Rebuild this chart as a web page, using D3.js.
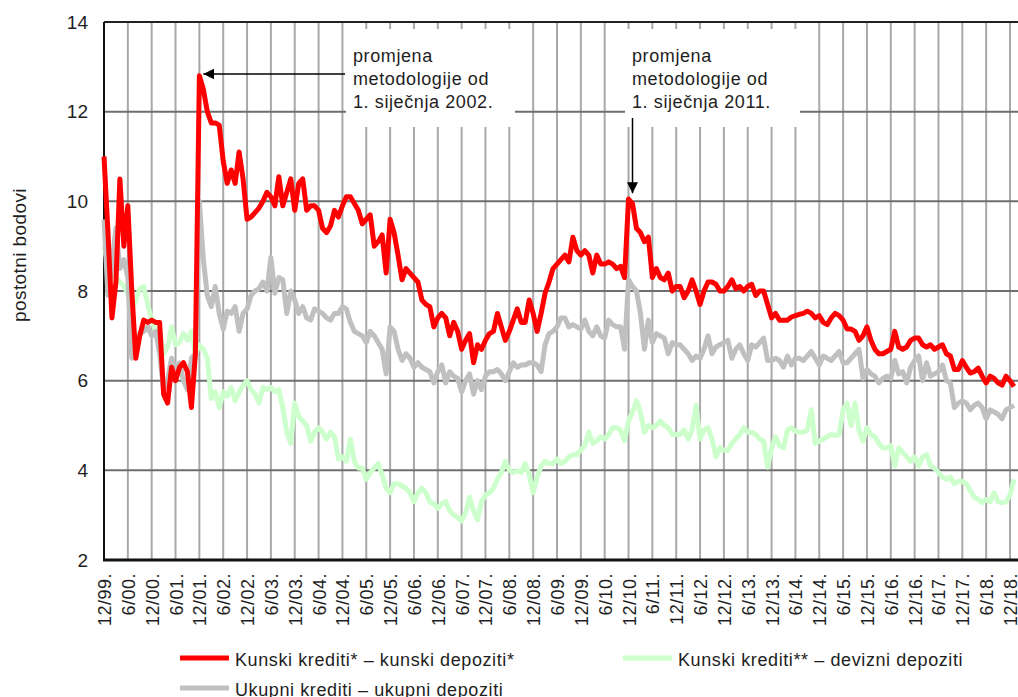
<!DOCTYPE html>
<html>
<head>
<meta charset="utf-8">
<script src="https://cdn.jsdelivr.net/npm/d3@7"></script>
<style>
  body { margin: 0; background: #fff; }
  svg text { font-family: Arial, "Liberation Sans", sans-serif; fill: #1e1e1e; }
</style>
</head>
<body>
<svg id="chart" width="1018" height="697"></svg>
<script>
// monthly values, 12/1999 - 1/2019 (percentage points)
var kunski = [
  11.0, 9.3, 7.4, 8.2, 10.5, 9.0, 9.9, 8.0, 6.5, 7.0, 7.35, 7.3,
  7.35, 7.3, 7.3, 5.7, 5.5, 6.3, 6.0, 6.3, 6.4, 6.2, 5.4, 6.6,
  12.8, 12.5, 12.0, 11.75, 11.75, 11.7, 10.9, 10.4, 10.7, 10.4, 11.1, 10.5,
  9.6, 9.65, 9.75, 9.85, 10.0, 10.2, 10.1, 9.9, 10.55, 9.9, 10.2, 10.5,
  9.8, 10.4, 10.5, 9.8, 9.9, 9.9, 9.8, 9.4, 9.3, 9.45, 9.8, 9.65,
  9.9, 10.1, 10.1, 9.95, 9.8, 9.5, 9.6, 9.7, 9.0, 9.1, 9.25, 8.4,
  9.6, 9.3, 8.8, 8.25, 8.5, 8.4, 8.3, 8.2, 7.8, 7.7, 7.65, 7.2,
  7.4, 7.5, 7.4, 7.0, 7.3, 7.1, 6.7, 6.9, 7.05, 6.4, 6.8, 6.7,
  6.9, 7.05, 7.1, 7.5, 7.2, 6.9, 7.1, 7.35, 7.6, 7.3, 7.3, 7.8,
  7.5, 7.1, 7.5, 7.95, 8.2, 8.5, 8.6, 8.7, 8.8, 8.65, 9.2, 8.9,
  8.8, 8.9, 8.8, 8.4, 8.8, 8.6, 8.6, 8.65, 8.6, 8.5, 8.55, 8.3,
  10.05, 9.95, 9.4, 9.3, 9.1, 9.2, 8.3, 8.5, 8.3, 8.25, 8.4, 8.0,
  8.1, 8.1, 7.85, 8.0, 8.25, 8.0, 7.7, 8.0, 8.2, 8.2, 8.15, 8.0,
  8.0, 8.1, 8.25, 8.05, 8.1, 8.0, 8.1, 8.15, 7.9, 8.0, 8.0, 7.7,
  7.4, 7.5, 7.35, 7.35, 7.35, 7.42, 7.45, 7.48, 7.5, 7.55, 7.5, 7.4,
  7.45, 7.3, 7.25, 7.4, 7.5, 7.45, 7.35, 7.15, 7.15, 7.1, 6.9, 7.0,
  7.2, 6.9, 6.7, 6.6, 6.6, 6.65, 6.7, 7.1, 6.75, 6.7, 6.75, 6.9,
  6.95, 6.95, 6.8, 6.75, 6.8, 6.7, 6.75, 6.8, 6.6, 6.55, 6.25, 6.25,
  6.45, 6.3, 6.17, 6.2, 6.28, 6.1, 5.95, 6.1, 6.05, 5.95, 5.9, 6.1, 6.0, 5.87
];

var ukupni = [
  9.6, 7.9, 8.6, 9.4, 8.5, 8.7, 8.3, 6.5, 6.8, 7.05, 7.1, 7.2,
  7.0, 7.1, 6.6, 5.8, 6.0, 6.5, 6.2, 6.4, 6.0, 5.8, 6.5, 6.6,
  10.0, 8.7, 7.9, 7.65, 8.1, 7.5, 7.15, 7.55, 7.5, 7.65, 7.1, 7.5,
  7.6, 7.9, 8.0, 8.05, 8.2, 8.0, 8.75, 7.95, 8.3, 8.25, 7.5, 8.0,
  7.8, 7.5, 7.65, 7.4, 7.35, 7.6, 7.55, 7.5, 7.4, 7.35, 7.5, 7.5,
  7.65, 7.6, 7.3, 7.1, 7.05, 7.0, 6.85, 7.1, 7.0, 6.85, 6.7, 6.15,
  7.2, 7.1, 6.7, 6.45, 6.6, 6.5, 6.3, 6.4, 6.3, 6.25, 6.2, 5.95,
  6.2, 6.35, 5.95, 6.2, 6.1, 6.05, 5.75, 6.0, 6.15, 5.7, 6.0, 5.8,
  6.1, 6.2, 6.2, 6.25, 6.15, 6.0, 6.2, 6.4, 6.3, 6.35, 6.35, 6.4,
  6.4, 6.35, 6.2, 6.8, 7.05, 7.1, 7.2, 7.4, 7.4, 7.2, 7.25, 7.2,
  7.15, 7.35, 7.1, 7.0, 7.2, 7.0, 6.95, 7.35, 7.25, 7.2, 7.2, 6.7,
  8.25, 8.1, 8.0, 7.5, 6.7, 7.35, 6.85, 7.05, 7.0, 6.95, 6.6, 6.85,
  6.8, 6.8, 6.7, 6.6, 6.45, 6.55, 6.5, 6.7, 7.0, 6.6, 6.75, 6.8,
  6.85, 6.9, 6.5, 6.7, 6.8, 6.6, 6.45, 6.8, 6.75, 6.85, 6.95, 6.45,
  6.45, 6.5, 6.45, 6.3, 6.55, 6.35, 6.5, 6.5, 6.45, 6.55, 6.65, 6.5,
  6.35, 6.55, 6.5, 6.45, 6.55, 6.65, 6.4, 6.4, 6.5, 6.6, 6.7, 6.05,
  6.25, 6.15, 6.1, 5.95, 6.05, 6.1, 6.05, 6.45, 6.15, 6.2, 5.95, 6.3,
  6.45, 6.55, 6.0, 6.4, 6.1, 6.15, 6.2, 6.35, 6.0, 5.95, 5.4, 5.5,
  5.55, 5.5, 5.35, 5.45, 5.5, 5.4, 5.15, 5.35, 5.3, 5.25, 5.15, 5.35, 5.4, 5.45
];

var devizni = [
  9.0, 8.6, 8.4, 8.3, 8.2, 8.1, 7.95, 7.55, 7.8, 8.05, 8.1, 7.7,
  7.35, 7.1, 7.15, 6.6, 6.75, 7.2, 6.8, 6.85, 7.05, 6.9, 7.1, 6.6,
  6.8, 6.7, 6.5, 5.6, 5.75, 5.4, 5.75, 5.65, 5.85, 5.55, 5.75, 5.9,
  6.0, 5.8, 5.7, 5.5, 5.85, 5.8, 5.85, 5.75, 5.8, 5.4, 4.85, 4.6,
  5.5, 5.2, 5.1, 5.0, 4.65, 4.85, 4.95, 4.85, 4.7, 4.85, 4.75, 4.25,
  4.3, 4.2, 4.7, 4.2, 4.05, 4.05, 3.8, 3.95, 4.05, 4.15, 3.9, 3.6,
  3.5, 3.7, 3.7, 3.65, 3.6, 3.5, 3.3, 3.5, 3.6, 3.5, 3.3, 3.25,
  3.15, 3.25, 3.3, 3.1, 3.0, 2.95, 2.87, 3.05, 3.4, 3.1, 2.9, 3.3,
  3.45, 3.5, 3.6, 3.8, 3.95, 4.2, 4.0, 3.95, 4.0, 3.95, 4.15, 3.9,
  3.5, 3.85, 4.1, 4.2, 4.15, 4.15, 4.25, 4.15, 4.2, 4.3, 4.35, 4.35,
  4.45, 4.55, 4.85, 4.6, 4.65, 4.75, 4.7, 4.8, 4.95, 4.95, 4.9, 4.66,
  5.1, 5.3, 5.55, 5.3, 4.85, 5.0, 4.95, 5.0, 5.1, 5.0, 4.95, 4.8,
  4.8, 4.8, 4.9, 4.7, 4.9, 5.45, 4.7, 4.9, 4.95, 4.7, 4.3, 4.5,
  4.45, 4.45, 4.6, 4.7, 4.8, 4.95, 4.85, 4.85, 4.8, 4.7, 4.65, 4.07,
  4.5, 4.75, 4.55, 4.5, 4.9, 4.95, 4.87, 4.85, 4.85, 4.9, 5.35, 4.6,
  4.65, 4.7, 4.75, 4.8, 4.78, 4.8, 5.35, 5.5, 5.0, 5.5, 4.9, 4.65,
  4.95, 4.8, 4.75, 4.6, 4.5, 4.5, 4.55, 4.1, 4.5, 4.4, 4.3, 4.2,
  4.3, 4.1, 4.3, 4.35, 4.1, 4.05, 3.95, 3.85, 3.8, 3.85, 3.7, 3.75,
  3.75, 3.7, 3.55, 3.4, 3.35, 3.28, 3.35, 3.3, 3.5, 3.3, 3.28, 3.3, 3.45, 3.8
];

var tickLabels = [
  "12/99.", "6/00.", "12/00.", "6/01.", "12/01.", "6/02.", "12/02.", "6/03.",
  "12/03.", "6/04.", "12/04.", "6/05.", "12/05.", "6/06.", "12/06.", "6/07.",
  "12/07.", "6/08.", "12/08.", "6/09.", "12/09.", "6/10.", "12/10.", "6/11.",
  "12/11.", "6/12.", "12/12.", "6/13.", "12/13.", "6/14.", "12/14.", "6/15.",
  "12/15.", "6/16.", "12/16.", "6/17.", "12/17.", "6/18.", "12/18."
];

var yTicks = [2, 4, 6, 8, 10, 12, 14];

var seriesNames = [
  "Kunski krediti* \u2013 kunski depoziti*",
  "Ukupni krediti \u2013 ukupni depoziti",
  "Kunski krediti** \u2013 devizni depoziti"
];

var note2002 = ["promjena", "metodologije od", "1. siječnja 2002."];
var note2011 = ["promjena", "metodologije od", "1. siječnja 2011."];

var svg = d3.select("#chart"),
    pLeft = 104, pRight = 1018, pTop = 22, pBottom = 560;

var x = d3.scaleLinear().domain([0, 228]).range([pLeft, 1010]);
var y = d3.scaleLinear().domain([2, 14]).range([pBottom, pTop]);

// vertical grid, every 6 months
svg.append("g")
  .selectAll("line")
  .data(tickLabels)
  .enter().append("line")
    .attr("x1", function(d, i) { return x(i * 6); })
    .attr("x2", function(d, i) { return x(i * 6); })
    .attr("y1", pTop)
    .attr("y2", pBottom)
    .style("stroke", "#a8a8a8")
    .style("stroke-width", 2);

// horizontal grid
svg.append("g")
  .selectAll("line")
  .data(yTicks.slice(1, -1))
  .enter().append("line")
    .attr("x1", pLeft)
    .attr("x2", pRight)
    .attr("y1", function(d) { return y(d); })
    .attr("y2", function(d) { return y(d); })
    .style("stroke", "#6e6e6e")
    .style("stroke-width", 2);

// white boxes behind the notes
svg.append("rect").attr("x", 346).attr("y", 29).attr("width", 169).attr("height", 98).style("fill", "#fff");
svg.append("rect").attr("x", 625).attr("y", 29).attr("width", 175).attr("height", 98).style("fill", "#fff");

// frame
svg.append("line").attr("x1", pLeft).attr("x2", pRight).attr("y1", pTop).attr("y2", pTop)
  .style("stroke", "#222").style("stroke-width", 2);
svg.append("line").attr("x1", pLeft).attr("x2", pLeft).attr("y1", pTop).attr("y2", pBottom)
  .style("stroke", "#111").style("stroke-width", 2);
svg.append("line").attr("x1", pLeft - 1).attr("x2", pRight).attr("y1", pBottom).attr("y2", pBottom)
  .style("stroke", "#111").style("stroke-width", 3);

// lines
var line = d3.line()
    .x(function(d, i) { return x(i); })
    .y(function(d) { return y(d); });

var series = [
  {values: devizni, color: "#ccffcc"},
  {values: ukupni, color: "#c0c0c0"},
  {values: kunski, color: "#ff0000"}
];

svg.append("g")
  .selectAll("path")
  .data(series)
  .enter().append("path")
    .attr("d", function(d) { return line(d.values); })
    .style("fill", "none")
    .style("stroke", function(d) { return d.color; })
    .style("stroke-width", 5)
    .style("stroke-linejoin", "round");

// y axis
var yAxis = svg.append("g")
    .attr("transform", "translate(" + pLeft + ",0)")
    .call(d3.axisLeft(y).tickValues(yTicks).tickSize(0).tickPadding(16));
yAxis.select(".domain").remove();
yAxis.selectAll("text")
    .style("font-size", "19px")
    .style("font-family", "Arial, 'Liberation Sans', sans-serif")
    .style("fill", "#1e1e1e");

svg.append("text")
    .attr("transform", "translate(26,255) rotate(-90)")
    .attr("text-anchor", "middle")
    .style("font-size", "19px")
    .style("letter-spacing", "0.4px")
    .text("postotni bodovi");

// x axis
var xAxis = svg.append("g")
    .attr("transform", "translate(0," + pBottom + ")")
    .call(d3.axisBottom(x)
      .tickValues(d3.range(0, 229, 6))
      .tickFormat(function(d) { return tickLabels[d / 6]; })
      .tickSize(0));
xAxis.select(".domain").remove();
xAxis.selectAll("text")
    .attr("transform", "rotate(-90)")
    .attr("text-anchor", "end")
    .attr("x", -13)
    .attr("y", 0)
    .attr("dy", ".36em")
    .style("font-size", "18px")
    .style("letter-spacing", "0.5px")
    .style("font-family", "Arial, 'Liberation Sans', sans-serif")
    .style("fill", "#1e1e1e");

// arrows
svg.append("defs").append("marker")
    .attr("id", "head")
    .attr("viewBox", "0 0 10 10")
    .attr("refX", 10).attr("refY", 5)
    .attr("markerWidth", 11).attr("markerHeight", 11)
    .attr("markerUnits", "userSpaceOnUse")
    .attr("orient", "auto")
  .append("path")
    .attr("d", "M0,0L10,5L0,10Z")
    .style("fill", "#000");

svg.append("line")
    .attr("x1", 345).attr("y1", y(12.84))
    .attr("x2", x(24) + 4).attr("y2", y(12.84))
    .style("stroke", "#000").style("stroke-width", 1.5)
    .attr("marker-end", "url(#head)");

svg.append("line")
    .attr("x1", x(133)).attr("y1", 118)
    .attr("x2", x(133)).attr("y2", y(10.18))
    .style("stroke", "#000").style("stroke-width", 1.5)
    .attr("marker-end", "url(#head)");

// notes
function note(lines, xPos) {
  svg.append("g").selectAll("text")
    .data(lines)
    .enter().append("text")
      .attr("x", xPos)
      .attr("y", function(d, i) { return 62 + i * 23; })
      .style("font-size", "18px")
      .style("letter-spacing", "0.6px")
      .text(function(d) { return d; });
}
note(note2002, 353);
note(note2011, 632);

// legend
var legend = [
  {name: seriesNames[0], color: "#ff0000", x: 180, y: 658},
  {name: seriesNames[1], color: "#c0c0c0", x: 180, y: 688},
  {name: seriesNames[2], color: "#ccffcc", x: 623, y: 658}
];

var lg = svg.append("g").selectAll("g")
  .data(legend)
  .enter().append("g")
    .attr("transform", function(d) { return "translate(" + d.x + "," + d.y + ")"; });

lg.append("line")
    .attr("x1", 0).attr("x2", 49)
    .style("stroke", function(d) { return d.color; })
    .style("stroke-width", 5);

lg.append("text")
    .attr("x", 55)
    .attr("y", 8)
    .style("font-size", "18px")
    .style("letter-spacing", "0.6px")
    .text(function(d) { return d.name; });
</script>
</body>
</html>
